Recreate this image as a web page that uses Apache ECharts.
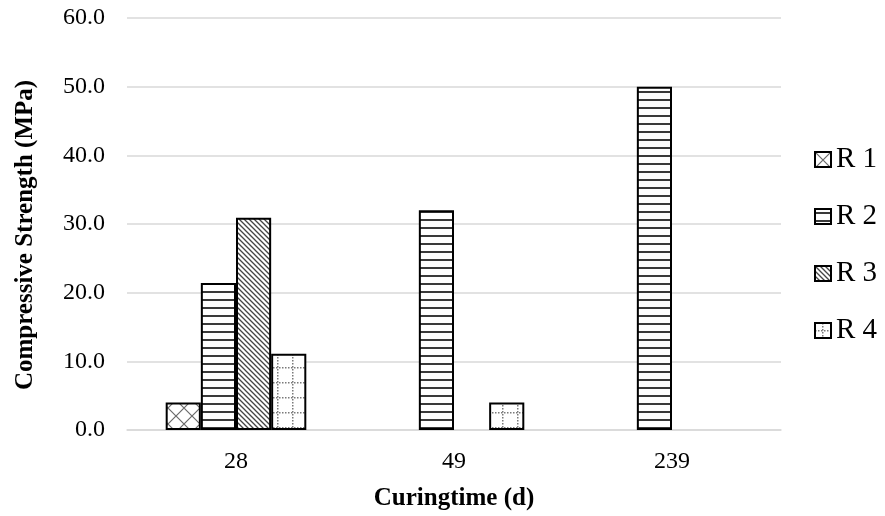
<!DOCTYPE html>
<html>
<head>
<meta charset="utf-8">
<script src="https://cdn.jsdelivr.net/npm/echarts@6/dist/echarts.min.js"></script>
<style>
  html, body { margin: 0; padding: 0; background: #fff; }
  #chart { width: 885px; height: 516px; }
</style>
</head>
<body>
<div id="chart"></div>
<script>
const categories = ['28', '49', '239']
const seriesNames = ['R 1', 'R 2', 'R 3', 'R 4']
const r1Values = [4.0, null, null]
const r2Values = [21.4, 32.0, 50.0]
const r3Values = [30.9, null, null]
const r4Values = [11.1, 4.0, null]
const yMin = 0
const yMax = 60
const yStep = 10

const FONT = '"Liberation Serif", "Times New Roman", serif'

// small canvas tiles used as bar fill patterns
const makeTile = (size, draw) => {
  const c = document.createElement('canvas')
  c.width = size
  c.height = size
  const ctx = c.getContext('2d')
  ctx.fillStyle = '#fff'
  ctx.fillRect(0, 0, size, size)
  draw(ctx, size)
  return { image: c, repeat: 'repeat' }
}

const crossHatch = makeTile(16, (ctx, s) => {
  ctx.strokeStyle = '#6a6a6a'
  ctx.lineWidth = 1.2
  ctx.beginPath()
  ctx.moveTo(0, 0); ctx.lineTo(s, s)
  ctx.moveTo(s, 0); ctx.lineTo(0, s)
  ctx.stroke()
})

const horizLines = makeTile(8, (ctx, s) => {
  ctx.fillStyle = '#3a3a3a'
  ctx.fillRect(0, 3, s, 2)
})

const denseDiag = makeTile(5, (ctx, s) => {
  ctx.strokeStyle = '#444'
  ctx.lineWidth = 1.3
  ctx.beginPath()
  ctx.moveTo(-1, -1); ctx.lineTo(s + 1, s + 1)
  ctx.moveTo(-1, s - 1); ctx.lineTo(1, s + 1)
  ctx.moveTo(s - 1, -1); ctx.lineTo(s + 1, 1)
  ctx.stroke()
})

const dottedGrid = makeTile(15, (ctx, s) => {
  ctx.fillStyle = '#7a7a7a'
  for (let i = 0; i < s; i += 3) {
    ctx.fillRect(i, 7, 1.5, 1.5)
    ctx.fillRect(7, i, 1.5, 1.5)
  }
})

const fills = [crossHatch, horizLines, denseDiag, dottedGrid]
const valueSets = [r1Values, r2Values, r3Values, r4Values]

const chart = echarts.init(document.getElementById('chart'))

chart.setOption({
  animation: false,
  textStyle: { fontFamily: FONT, color: '#000' },
  grid: {
    left: 127,
    right: 104,
    top: 18,
    bottom: 86
  },
  legend: {
    orient: 'vertical',
    left: 814,
    top: 145,
    padding: 0,
    itemWidth: 16,
    itemHeight: 15,
    itemGap: 28,
    icon: 'rect',
    textStyle: {
      fontFamily: FONT,
      fontSize: 29,
      color: '#000'
    },
    data: seriesNames
  },
  xAxis: {
    type: 'category',
    data: categories,
    name: 'Curingtime (d)',
    nameLocation: 'middle',
    nameGap: 56,
    nameTextStyle: {
      fontFamily: FONT,
      fontSize: 25,
      fontWeight: 'bold',
      color: '#000'
    },
    axisLine: { lineStyle: { color: '#d9d9d9', width: 1.5 } },
    axisTick: { show: false },
    axisLabel: {
      fontFamily: FONT,
      fontSize: 24,
      color: '#000',
      margin: 20
    }
  },
  yAxis: {
    type: 'value',
    min: yMin,
    max: yMax,
    interval: yStep,
    name: 'Compressive Strength (MPa)',
    nameLocation: 'middle',
    nameGap: 89,
    nameTextStyle: {
      fontFamily: FONT,
      fontSize: 25,
      fontWeight: 'bold',
      color: '#000',
      padding: [0, 22, 0, 0]
    },
    axisLine: { show: false },
    axisTick: { show: false },
    axisLabel: {
      fontFamily: FONT,
      fontSize: 24,
      color: '#000',
      margin: 22,
      formatter: v => v.toFixed(1)
    },
    splitLine: { lineStyle: { color: '#d9d9d9', width: 1.5 } }
  },
  series: seriesNames.map((name, i) => ({
    name,
    type: 'bar',
    barGap: '0%',
    barCategoryGap: '35.5%',
    data: valueSets[i],
    itemStyle: {
      color: fills[i],
      borderColor: '#000',
      borderWidth: 2
    }
  }))
})
</script>
</body>
</html>
